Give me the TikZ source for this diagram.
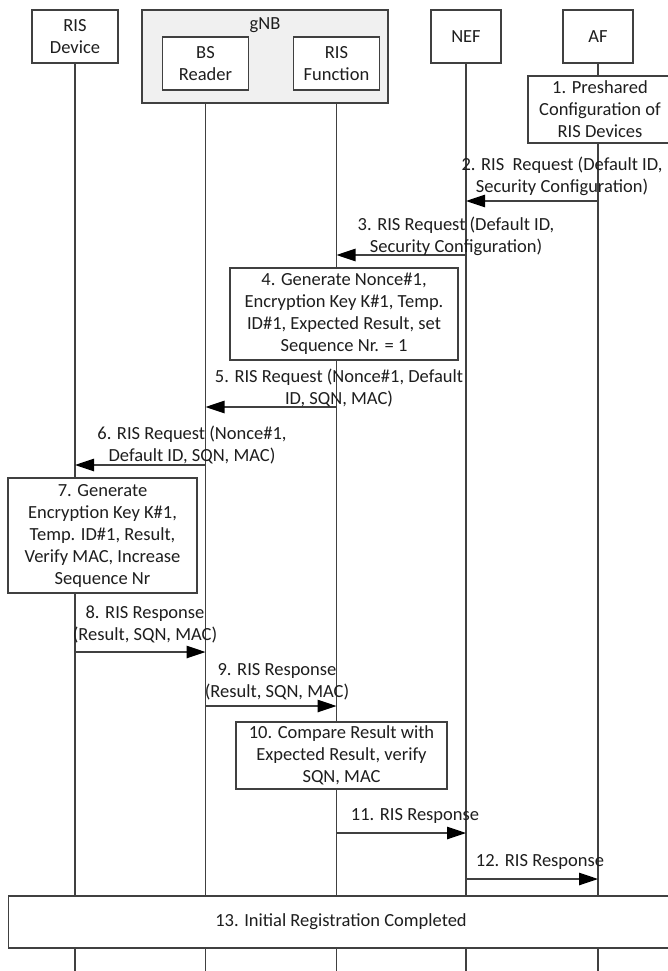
\documentclass[tikz,border=0pt]{standalone}
\usepackage{fontspec}
\setmainfont{Carlito}
\usetikzlibrary{arrows.meta}
\definecolor{ln}{HTML}{404040}
\definecolor{txt}{HTML}{1E1E1E}
\definecolor{gnbfill}{HTML}{F0F0F0}
\begin{document}
\begin{tikzpicture}[x=1pt,y=-1pt,
  every node/.style={font=\fontsize{18.5}{22}\selectfont, text=txt, inner sep=0pt, align=center},
  hdr/.style={draw=ln, line width=1.2pt, fill=white, minimum height=53pt},
  act/.style={draw=ln, line width=1.2pt, fill=white},
  life/.style={draw=ln, line width=1.2pt},
  msg/.style={draw=ln, line width=1.2pt, -{Triangle[length=19pt,width=12.5pt,color=black]}}]
\useasboundingbox (0,0) rectangle (667,971);
\fill[white] (0,0) rectangle (667,971);
% header
\node[draw=ln, line width=1.2pt, fill=gnbfill, minimum width=246pt, minimum height=93pt] (gnb) at (265,56.5) {};
\node (gnbt) at (265,25) {gNB};
\node[hdr, minimum width=86pt] (dev) at (75,36.5) {RIS\\Device};
\node[hdr, minimum width=86pt] (bsr) at (205.5,63.5) {BS\\Reader};
\node[hdr, minimum width=86pt] (risf) at (336.5,63.5) {RIS\\Function};
\node[hdr, minimum width=70pt] (nef) at (466,36.5) {NEF};
\node[hdr, minimum width=70pt] (af) at (598,36.5) {AF};
% lifelines
\coordinate (bot) at (0,985);
\draw[life] (dev.south) -- (dev.south |- bot);
\draw[life] (gnb.south -| bsr) -- (bsr |- bot);
\draw[life] (gnb.south -| risf) -- (risf |- bot);
\draw[life] (nef.south) -- (nef.south |- bot);
\draw[life] (af.south) -- (af.south |- bot);
% activity boxes
\node[act, minimum width=144pt, minimum height=67pt] (b1) at (600,109.5) {1. Preshared\\Configuration of\\RIS Devices};
\node[act, minimum width=228pt, minimum height=92pt] (b4) at (344,314) {4. Generate Nonce\#1,\\Encryption Key K\#1, Temp.\\ID\#1, Expected Result, set\\Sequence Nr. = 1};
\node[act, minimum width=189pt, minimum height=115pt] (b7) at (102.5,535.5) {7. Generate\\Encryption Key K\#1,\\Temp. ID\#1, Result,\\Verify MAC, Increase\\Sequence Nr};
\node[act, minimum width=211pt, minimum height=67pt] (b10) at (341.5,755.5) {10. Compare Result with\\Expected Result, verify\\SQN, MAC};
\node[act, minimum width=665pt, minimum height=52pt] (b13) at (341,922) {13. Initial Registration Completed};
% messages
\coordinate (y2) at (0,201);
\coordinate (y3) at (0,255);
\coordinate (y5) at (0,407);
\coordinate (y6) at (0,465);
\coordinate (y8) at (0,652);
\coordinate (y9) at (0,706);
\coordinate (y11) at (0,833);
\coordinate (y12) at (0,879);
\draw[msg] (af |- y2) -- (nef |- y2);
\draw[msg] (nef |- y3) -- (risf |- y3);
\draw[msg] (risf |- y5) -- (bsr |- y5);
\draw[msg] (bsr |- y6) -- (dev |- y6);
\draw[msg] (dev |- y8) -- (bsr |- y8);
\draw[msg] (bsr |- y9) -- (risf |- y9);
\draw[msg] (risf |- y11) -- (nef |- y11);
\draw[msg] (nef |- y12) -- (af |- y12);
% labels
\node (l2) at (562,176) {2. RIS\ \ Request (Default ID,\\Security Configuration)};
\node (l3) at (456,236) {3. RIS Request (Default ID,\\Security Configuration)};
\node (l5) at (339,388) {5. RIS Request (Nonce\#1, Default\\ID, SQN, MAC)};
\node (l6) at (192,445) {6. RIS Request (Nonce\#1,\\Default ID, SQN, MAC)};
\node (l8) at (145,624.5) {8. RIS Response\\(Result, SQN, MAC)};
\node (l9) at (277,682) {9. RIS Response\\(Result, SQN, MAC)};
\node (l11) at (415,816) {11. RIS Response};
\node (l12) at (540,862) {12. RIS Response};
\end{tikzpicture}
\end{document}
